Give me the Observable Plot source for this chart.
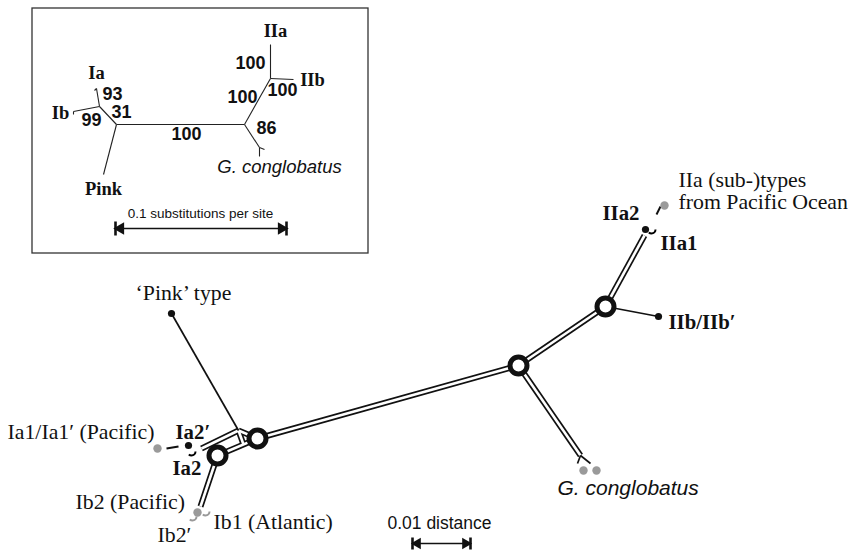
<!DOCTYPE html>
<html>
<head>
<meta charset="utf-8">
<script src="https://cdn.jsdelivr.net/npm/d3@7"></script>
<script src="https://cdn.jsdelivr.net/npm/@observablehq/plot@0.6"></script>
<style>
  html, body { margin: 0; padding: 0; background: #fff; }
  #chart svg { display: block; }
</style>
</head>
<body>
<div id="chart"></div>
<script>
// ---------- Main tree (diagram units = pixels of the 851x553 canvas) ----------
const nodeNames = ["PJ", "IaEnd", "B", "A", "IbEnd", "Pink", "C", "D", "IIaEnd", "IIb", "GcFork", "GcL", "GcR", "Q"];
const nodeX     = [238,  201,     257, 217, 200,     171,    518, 605, 644,      658,   580,      577,   590,   243];
const nodeY     = [430,  448,     438, 455, 506,     313,    365, 306, 235,      316,   455,      463,   463,   444];

const edgeFrom = ["PJ",   "PJ",   "B",    "A",     "PJ",  "B",    "C",    "D",      "C",      "D",   "GcFork", "GcFork"];
const edgeTo   = ["IaEnd","B",    "A",    "IbEnd", "Q",   "C",    "D",    "IIaEnd", "GcFork", "IIb", "GcL",    "GcR"];
const edgeKind = ["double","double","double","double","double","double","double","double","double","single","single","single"];
const pinkEdge = ["Pink", "PJ"];

const supportedNodes = ["A", "B", "C", "D"];

// terminal haplotype dots
const tipLabels = ["Pink", "Ia2'", "IIa1", "IIb", "Ia1", "Ib2", "Gc1", "Gc2", "IIaPac"];
const tipX      = [171,    188,     645,    658,   157,   197,   583,   596,   664];
const tipY      = [313,    445,     229,    316,   448,   512,   470,   470,   205];
const tipGroup  = ["black","black","black","black","gray","gray","gray","gray","gray"];

// short dashed connectors between near-identical haplotypes
const dashX1 = [166, 656];
const dashY1 = [448, 214];
const dashX2 = [178, 660];
const dashY2 = [446, 206];

// partially hidden haplotypes (drawn as arcs)
const arcX     = [191, 192, 205, 651];
const arcY     = [451, 516, 511, 229];
const arcColor = ["black", "#999", "#999", "black"];
const arcOffset= [-4, -3, 7, 3];

// labels of the main tree
const mainText   = ["IIa (sub-)types", "from Pacific Ocean", "IIa2", "IIa1", "IIb/IIb\u2032", "\u2018Pink\u2019 type",
                    "Ia1/Ia1\u2032 (Pacific)", "Ia2\u2032", "Ia2", "Ib2 (Pacific)", "Ib2\u2032", "Ib1 (Atlantic)"];
const mainTextX  = [678, 678, 639, 660, 668, 135, 7, 175, 172, 75, 157, 213];
const mainTextY  = [180, 202, 213, 243, 322, 293, 432, 432, 468, 502, 535, 522];
const mainAnchor = ["start","start","end","start","start","start","start","start","start","start","start","start"];
const mainBold   = [false, false, true, true, true, false, false, true, true, false, false, false];

const gcLabel = {text: "G. conglobatus", x: 557, y: 488};

// ---------- Inset (bootstrap tree) ----------
const insetBox = [{x1: 32, y1: 8, x2: 368, y2: 253}];
const inNodeNames = ["L", "R", "IaIb", "IaTip", "IbTip", "PinkTip", "II", "IIaTip", "IIbTip", "GcN", "GcTip", "GcHook", "IaHook", "IbHook"];
const inNodeX     = [116, 244, 99,  96,  73,  103, 270, 270, 293, 259, 259, 264, 94, 73];
const inNodeY     = [124, 124, 106, 88,  111, 174, 78,  44,  79,  147, 156, 149, 90, 114];
const inEdgeFrom  = ["L", "L",    "IaIb",  "IaIb",  "L",       "R",  "II",     "II",     "R",   "GcN",   "GcN",    "IaTip",  "IbTip"];
const inEdgeTo    = ["R", "IaIb", "IaTip", "IbTip", "PinkTip", "II", "IIaTip", "IIbTip", "GcN", "GcTip", "GcHook", "IaHook", "IbHook"];

const inTaxa   = ["IIa", "IIb", "Ia", "Ib", "Pink"];
const inTaxaX  = [275,   312,   96,   60,   103];
const inTaxaY  = [31,    80,    73,   113,  189];

const bootValues = ["100", "100", "100", "100", "86", "93", "31", "99"];
const bootX      = [250,   242,   282,   186,   266,  112,  121,  91];
const bootY      = [63,    97,    90,    134,   128,  94,   112,  120];

const inGcLabel = {text: "G. conglobatus", x: 279, y: 167};

// scale bars
const scaleLabel = ["0.1 substitutions per site", "0.01 distance"];
const scaleX1    = [115, 412];
const scaleX2    = [286, 470];
const scaleY     = [228, 543];
const scaleTextX = [200, 439];
const scaleTextY = [213, 523];
const scaleSize  = [13.5, 17.5];

// ---------- build tables ----------
const pos = new Map(nodeNames.map((n, i) => [n, [nodeX[i], nodeY[i]]]));
const edges = edgeFrom.map((f, i) => ({x1: pos.get(f)[0], y1: pos.get(f)[1], x2: pos.get(edgeTo[i])[0], y2: pos.get(edgeTo[i])[1], kind: edgeKind[i]}));
const doubles = edges.filter(d => d.kind === "double");
const singles = edges.filter(d => d.kind === "single");
singles.push({x1: pos.get(pinkEdge[0])[0], y1: pos.get(pinkEdge[0])[1], x2: pos.get(pinkEdge[1])[0], y2: pos.get(pinkEdge[1])[1]});
const circles = supportedNodes.map(n => ({x: pos.get(n)[0], y: pos.get(n)[1]}));
const tips = tipLabels.map((t, i) => ({t, x: tipX[i], y: tipY[i], g: tipGroup[i]}));
const dashes = dashX1.map((x, i) => ({x1: x, y1: dashY1[i], x2: dashX2[i], y2: dashY2[i]}));
const arcs = arcX.map((x, i) => ({x, y: arcY[i], c: arcColor[i], o: arcOffset[i]}));
const texts = mainText.map((t, i) => ({t, x: mainTextX[i], y: mainTextY[i], a: mainAnchor[i], b: mainBold[i]}));

const ipos = new Map(inNodeNames.map((n, i) => [n, [inNodeX[i], inNodeY[i]]]));
const inEdges = inEdgeFrom.map((f, i) => ({x1: ipos.get(f)[0], y1: ipos.get(f)[1], x2: ipos.get(inEdgeTo[i])[0], y2: ipos.get(inEdgeTo[i])[1]}));
const taxa = inTaxa.map((t, i) => ({t, x: inTaxaX[i], y: inTaxaY[i]}));
const boots = bootValues.map((t, i) => ({t, x: bootX[i], y: bootY[i]}));
const bars = scaleLabel.map((t, i) => ({t, x1: scaleX1[i], x2: scaleX2[i], y: scaleY[i], tx: scaleTextX[i], ty: scaleTextY[i], s: scaleSize[i]}));
const barEnds = bars.flatMap((b, i) => [{x: b.x1, y: b.y, r: -90, i}, {x: b.x2, y: b.y, r: 90, i}]);

const serif = "'Liberation Serif', 'Times New Roman', serif";
const sans = "'Liberation Sans', Arial, sans-serif";

const textMarks = [];
for (const anchor of ["start", "end"]) {
  for (const bold of [false, true]) {
    const sub = texts.filter(d => d.a === anchor && d.b === bold);
    if (!sub.length) continue;
    textMarks.push(Plot.text(sub, {x: "x", y: "y", text: "t", textAnchor: anchor, fontFamily: serif,
      fontWeight: bold ? "bold" : "normal", fontSize: bold ? 20.8 : 21.8, fill: "#111"}));
  }
}

const plot = Plot.plot({
  width: 851,
  height: 553,
  margin: 0,
  x: {domain: [0, 851], range: [0, 851], axis: null},
  y: {domain: [553, 0], range: [553, 0], axis: null},
  r: {type: "identity"},
  style: {background: "white", overflow: "visible"},
  marks: [
    // inset
    Plot.rect(insetBox, {x1: "x1", x2: "x2", y1: "y1", y2: "y2", fill: "white", stroke: "#333", strokeWidth: 1.3}),
    Plot.link(inEdges, {x1: "x1", y1: "y1", x2: "x2", y2: "y2", stroke: "#222", strokeWidth: 1.1}),
    Plot.text(taxa, {x: "x", y: "y", text: "t", fontFamily: serif, fontWeight: "bold", fontSize: 18.5, fill: "#111"}),
    Plot.text(boots, {x: "x", y: "y", text: "t", fontFamily: sans, fontWeight: "bold", fontSize: 18, fill: "#111"}),
    Plot.text([inGcLabel], {x: "x", y: "y", text: "text", fontFamily: sans, fontStyle: "italic", fontSize: 18.5, fill: "#111"}),
    // scale bars
    Plot.link(bars, {x1: "x1", x2: "x2", y1: "y", y2: "y", stroke: "#111", strokeWidth: 1.6}),
    Plot.text(bars, {x: "tx", y: "ty", text: "t", fontFamily: sans, fontSize: "s", fill: "#111"}),
    Plot.link(barEnds, {x1: "x", x2: "x", y1: d => d.y - (d.i === 0 ? 7 : 6), y2: d => d.y + (d.i === 0 ? 7 : 6), stroke: "#111", strokeWidth: 2.6}),
    Plot.dot(barEnds, {x: d => d.x + (d.r > 0 ? -5 : 5), y: "y", symbol: "triangle2", rotate: "r", r: d => d.i === 0 ? 6 : 5.5, fill: "#111"}),
    // main tree: double branches
    Plot.link(doubles, {x1: "x1", y1: "y1", x2: "x2", y2: "y2", stroke: "#111", strokeWidth: 6}),
    Plot.link(doubles, {x1: "x1", y1: "y1", x2: "x2", y2: "y2", stroke: "white", strokeWidth: 2.6}),
    Plot.link(singles, {x1: "x1", y1: "y1", x2: "x2", y2: "y2", stroke: "#111", strokeWidth: 1.7}),
    Plot.link(dashes, {x1: "x1", y1: "y1", x2: "x2", y2: "y2", stroke: "#111", strokeWidth: 2}),
    Plot.dot(circles, {x: "x", y: "y", r: 8.5, fill: "white", stroke: "#111", strokeWidth: 5}),
    Plot.dot(arcs, {x: "x", y: "y", r: 4, fill: "none", stroke: "c", strokeWidth: 2, strokeDasharray: "9 16", strokeDashoffset: "o"}),
    Plot.dot(tips, {x: "x", y: "y", r: d => d.g === "black" ? 3.6 : 4.2, fill: d => d.g === "black" ? "#111" : "#9a9a9a"}),
    // labels
    ...textMarks,
    Plot.text([gcLabel], {x: "x", y: "y", text: "text", textAnchor: "start", fontFamily: sans, fontStyle: "italic", fontSize: 21, fill: "#111"})
  ]
});
document.getElementById("chart").appendChild(plot);
</script>
</body>
</html>
